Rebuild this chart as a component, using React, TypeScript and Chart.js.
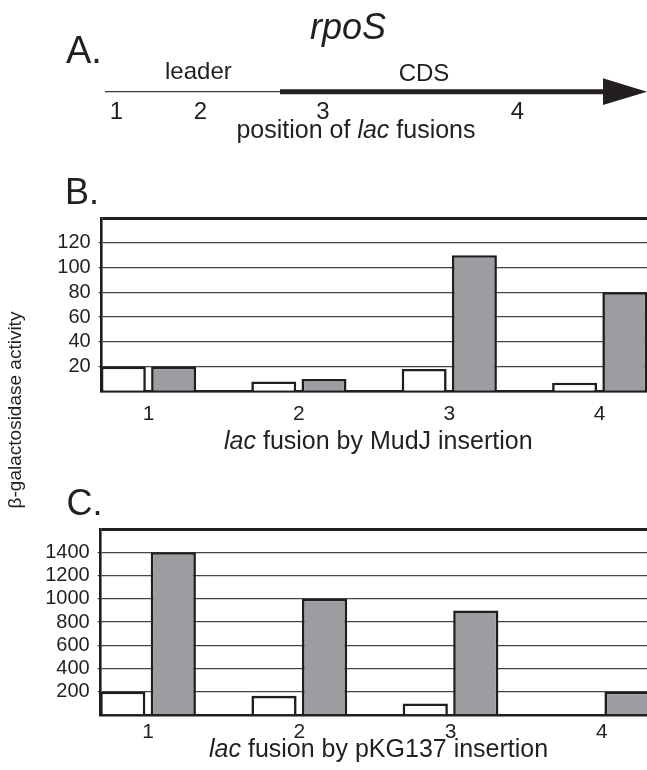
import React, { useEffect, useRef } from 'react';
import { Chart, registerables } from 'chart.js';

Chart.register(...registerables);

// ---- data ----
const fusionPositions = [1, 2, 3, 4];
const fusionLabels = ['1', '2', '3', '4'];
// Panel B: lac fusion by MudJ insertion
const mudjWhite = [20, 8, 18, 7];
const mudjGray = [20, 10, 110, 80];
const mudjMax = 140;
const mudjStep = 20;
// Panel C: lac fusion by pKG137 insertion
const pkgWhite = [200, 165, 100, 0];
const pkgGray = [1400, 1000, 900, 200];
const pkgMax = 1600;
const pkgStep = 200;

const INK = '#231f20';
const GRAY = '#9c9da1';
const FONT = "'Liberation Sans', Arial, sans-serif";

type PanelOpts = {
  white: number[];
  gray: number[];
  max: number;
  step: number;
  xMin: number;
  xMax: number;
  yWidth: number;
  padTop: number;
  xHeight: number;
  xPad: number;
};

function makeConfig(o: PanelOpts): any {
  const toPts = (vals: number[]) => fusionPositions.map((x, i) => ({ x, y: vals[i] }));
  return {
    type: 'bar',
    data: {
      datasets: [
        {
          data: toPts(o.white),
          backgroundColor: '#ffffff',
          borderColor: '#1e1e1e',
          borderWidth: 2.6,
          borderSkipped: 'start',
          categoryPercentage: 0.668,
          barPercentage: 0.895,
        },
        {
          data: toPts(o.gray),
          backgroundColor: GRAY,
          borderColor: '#1e1e1e',
          borderWidth: 2.6,
          borderSkipped: 'start',
          categoryPercentage: 0.668,
          barPercentage: 0.895,
        },
      ],
    },
    options: {
      responsive: false,
      animation: false,
      devicePixelRatio: 1,
      layout: { padding: { top: o.padTop, left: 0, right: 0, bottom: 0 } },
      plugins: { legend: { display: false }, tooltip: { enabled: false }, title: { display: false } },
      scales: {
        x: {
          type: 'linear',
          offset: false,
          min: o.xMin,
          max: o.xMax,
          afterBuildTicks: (scale: any) => {
            scale.ticks = fusionPositions.map((v) => ({ value: v }));
          },
          afterFit: (scale: any) => {
            scale.height = o.xHeight;
          },
          grid: { display: false, drawTicks: false, offset: false },
          border: { display: true, width: 2.6, color: '#1e1e1e' },
          ticks: {
            padding: o.xPad,
            color: INK,
            font: { family: FONT, size: 21 },
            maxRotation: 0,
            autoSkip: false,
            callback: (v: any) => {
              const i = fusionPositions.indexOf(Number(v));
              return i >= 0 ? fusionLabels[i] : '';
            },
          },
        },
        y: {
          min: 0,
          max: o.max,
          afterFit: (scale: any) => {
            scale.width = o.yWidth;
          },
          grid: {
            display: true,
            drawTicks: true,
            tickLength: 3,
            color: (ctx: any) => (ctx.tick && ctx.tick.value === o.max ? '#1e1e1e' : '#444444'),
            lineWidth: (ctx: any) => (ctx.tick && ctx.tick.value === o.max ? 3 : 1.3),
            tickColor: (ctx: any) =>
              ctx.tick && (ctx.tick.value === o.max || ctx.tick.value === 0) ? 'rgba(0,0,0,0)' : '#444444',
            tickWidth: 1.3,
          },
          border: { display: true, width: 2.6, color: '#1e1e1e' },
          ticks: {
            stepSize: o.step,
            autoSkip: false,
            padding: 8,
            color: INK,
            font: { family: FONT, size: 20 },
            callback: (v: any) => (Number(v) === 0 || Number(v) === o.max ? '' : String(v)),
          },
        },
      },
    },
  };
}

function BarPanel(props: { top: number; height: number; opts: PanelOpts }) {
  const ref = useRef<HTMLCanvasElement | null>(null);
  useEffect(() => {
    if (!ref.current) return;
    const chart = new Chart(ref.current, makeConfig(props.opts));
    return () => chart.destroy();
  }, []);
  return (
    <canvas
      ref={ref}
      width={647}
      height={props.height}
      style={{ position: 'absolute', left: 0, top: props.top, width: 647, height: props.height }}
    />
  );
}

export default function App() {
  const italic = { fontStyle: 'italic' } as any;
  return (
    <div
      style={{
        position: 'absolute',
        left: 0,
        top: 0,
        width: 647,
        height: 770,
        overflow: 'hidden',
        background: '#ffffff',
      }}
    >
      <BarPanel
        top={198}
        height={230}
        opts={{
          white: mudjWhite,
          gray: mudjGray,
          max: mudjMax,
          step: mudjStep,
          xMin: 0.689,
          xMax: 4.3145,
          yWidth: 101.7,
          padTop: 13.6,
          xHeight: 36.7,
          xPad: 10,
        }}
      />
      <BarPanel
        top={509}
        height={236}
        opts={{
          white: pkgWhite,
          gray: pkgGray,
          max: pkgMax,
          step: pkgStep,
          xMin: 0.687,
          xMax: 4.299,
          yWidth: 100.7,
          padTop: 13.6,
          xHeight: 30,
          xPad: 5,
        }}
      />
      <svg
        width={647}
        height={770}
        style={{ position: 'absolute', left: 0, top: 0, pointerEvents: 'none' }}
        fontFamily={FONT}
        fill={INK}
      >
        {/* Panel A */}
        <text x={310} y={39.3} fontSize={36} style={italic}>rpoS</text>
        <text x={66} y={62.7} fontSize={38}>A.</text>
        <text x={165} y={79} fontSize={24}>leader</text>
        <text x={424} y={81} fontSize={24} textAnchor="middle">CDS</text>
        <line x1={105} y1={91.7} x2={282} y2={91.7} stroke="#3a3a3a" strokeWidth={1.3} />
        <line x1={280} y1={91.8} x2={606} y2={91.8} stroke={INK} strokeWidth={5} />
        <polygon points="603,78.3 647,91.7 603,105" fill={INK} />
        <text x={116.5} y={119} fontSize={24} textAnchor="middle">1</text>
        <text x={200.5} y={119} fontSize={24} textAnchor="middle">2</text>
        <text x={323} y={119} fontSize={24} textAnchor="middle">3</text>
        <text x={517.5} y={119} fontSize={24} textAnchor="middle">4</text>
        <text x={356} y={138} fontSize={25} textAnchor="middle">
          position of <tspan style={italic}>lac</tspan> fusions
        </text>

        {/* Panel B */}
        <text x={65} y={204.3} fontSize={36}>B.</text>
        <text x={378.3} y={449} fontSize={25} textAnchor="middle">
          <tspan style={italic}>lac</tspan> fusion by MudJ insertion
        </text>

        {/* Panel C */}
        <text x={66.5} y={515} fontSize={36}>C.</text>
        <text x={378.6} y={757} fontSize={25} textAnchor="middle">
          <tspan style={italic}>lac</tspan> fusion by pKG137 insertion
        </text>

        {/* shared y-axis title */}
        <text x={0} y={0} fontSize={19} textAnchor="middle" transform="translate(21,410) rotate(-90)">
          β-galactosidase activity
        </text>
      </svg>
    </div>
  );
}
